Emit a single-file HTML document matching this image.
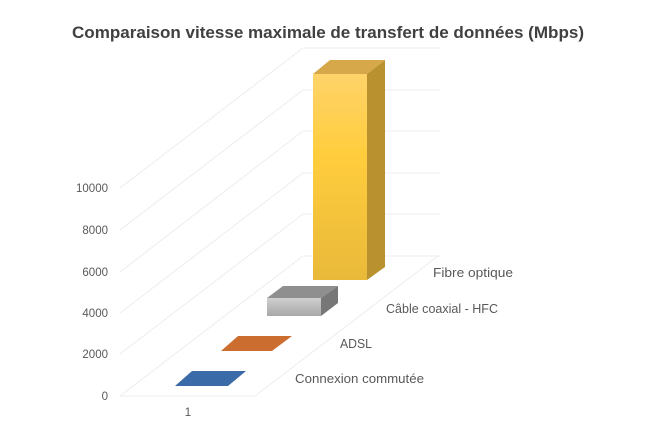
<!DOCTYPE html><html><head><meta charset="utf-8"><style>body{margin:0;background:#fff}svg{display:block}</style></head><body>
<svg width="653" height="425" xmlns="http://www.w3.org/2000/svg" font-family="Liberation Sans, sans-serif">
<defs>
<linearGradient id="yf" x1="0" y1="0" x2="0" y2="1"><stop offset="0" stop-color="#ffd36a"/><stop offset="0.4" stop-color="#ffcd3c"/><stop offset="1" stop-color="#e9b93a"/></linearGradient>
<linearGradient id="gf" x1="0" y1="0" x2="0" y2="1"><stop offset="0" stop-color="#cfcfcf"/><stop offset="1" stop-color="#a8a8a8"/></linearGradient>
</defs>
<text x="328" y="38" text-anchor="middle" font-size="16.5" font-weight="bold" fill="#404040" textLength="512" lengthAdjust="spacingAndGlyphs">Comparaison vitesse maximale de transfert de données (Mbps)</text>
<g stroke="#ededed" stroke-width="1" fill="none">
<path d="M120 396 L303 256 M120 354 L303 214 M120 313 L303 173 M120 272 L303 131 M120 230 L303 90 M120 188 L303 48"/>
<path d="M303 256 L440 256 M303 214 L440 214 M303 173 L440 173 M303 131 L440 131 M303 90 L440 90 M303 48 L440 48"/>
<path d="M120 396 L255 396 L438 256"/>
</g>
<g font-size="11.5" fill="#595959" text-anchor="end">
<text x="108" y="400">0</text><text x="108" y="358">2000</text><text x="108" y="317">4000</text><text x="108" y="276">6000</text><text x="108" y="234">8000</text><text x="108" y="192">10000</text>
</g>
<text x="188" y="416" font-size="11.5" fill="#595959" text-anchor="middle">1</text>
<polygon points="175,386 228,386 246,371 192,371" fill="#3b6aa8"/>
<polygon points="221,351 272,351 292,336 238,336" fill="#cc6d30"/>
<polygon points="267,298 321,298 338,286 283,286" fill="#8f8f8f"/>
<polygon points="321,298 338,286 338,303 321,316" fill="#777"/>
<rect x="267" y="298" width="54" height="18" fill="url(#gf)"/>
<polygon points="313,74 367,74 385,60 330,60" fill="#d7a84a"/>
<polygon points="367,74 385,60 385,267 367,280" fill="#b9922f"/>
<rect x="313" y="74" width="54" height="206" fill="url(#yf)"/>
<g font-size="12.5" fill="#595959">
<text x="433" y="277" textLength="80" lengthAdjust="spacingAndGlyphs">Fibre optique</text>
<text x="386" y="313" textLength="112" lengthAdjust="spacingAndGlyphs">Câble coaxial - HFC</text>
<text x="340" y="348" textLength="32" lengthAdjust="spacingAndGlyphs">ADSL</text>
<text x="295" y="383" textLength="129" lengthAdjust="spacingAndGlyphs">Connexion commutée</text>
</g>
</svg>
</body></html>
